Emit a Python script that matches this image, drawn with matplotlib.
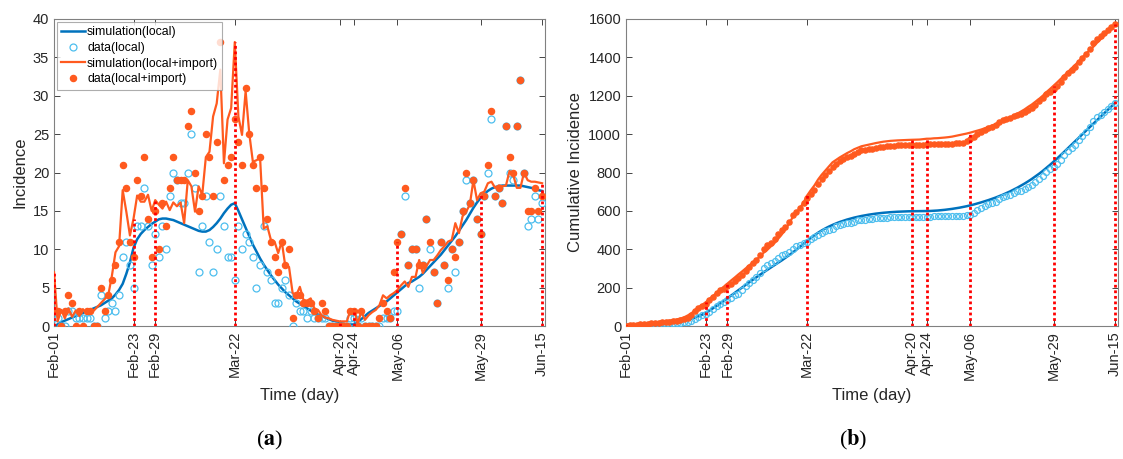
import numpy as np
import matplotlib
matplotlib.use("Agg")
import matplotlib.pyplot as plt

plt.rcParams['font.family'] = ['Liberation Sans', 'DejaVu Sans']
plt.rcParams['mathtext.fontset'] = 'stix'

# ---- daily series, 1 Feb 2020 .. 15 Jun 2020 (136 days) ----
start_date = '2020-02-01'

data_local = [
    1, 1, 0, 0, 2, 2, 1, 1, 1, 1, 1, 0, 0, 4, 1, 2, 3, 2, 4, 9, 11, 8, 5,
    13, 13, 18, 13, 8, 12,
    9, 13, 10, 17, 20, 19, 16, 16, 20, 25, 18, 7, 13, 17, 11, 7, 10, 17, 13, 9, 9, 6,
    13, 10, 12, 11, 9, 5, 8, 13, 7, 6, 3, 3, 5, 6, 4, 0, 3, 2, 2, 1, 2, 1, 1, 1, 1, 0, 0, 0, 0,
    0, 0, 1, 1, 0, 1, 0, 0, 0, 0, 0, 1, 1, 1, 2, 2,
    12, 17, 8, 10, 10, 5, 8, 14, 10, 7, 3, 11, 8, 5, 10, 7, 11, 15, 19, 16, 19, 14, 12,
    17, 20, 27, 17, 18, 16, 26, 20, 19, 26, 32, 20, 13, 14, 17, 14, 16,
]

data_total = [
    2, 2, 0, 2, 4, 3, 0, 2, 0, 2, 2, 0, 0, 5, 2, 4, 6, 8, 11, 21, 18, 11, 9,
    19, 17, 22, 14, 9, 15,
    10, 16, 13, 18, 22, 19, 19, 19, 26, 28, 20, 15, 17, 25, 22, 17, 24, 37, 19, 21, 22, 27,
    24, 21, 31, 25, 21, 18, 22, 18, 14, 11, 9, 7, 11, 8, 10, 1, 4, 4, 3, 3, 3, 2, 1, 3, 2, 0, 0, 0, 0,
    0, 0, 2, 2, 0, 2, 0, 0, 0, 0, 1, 3, 2, 1, 7, 11,
    12, 18, 8, 10, 10, 8, 8, 14, 11, 7, 3, 11, 8, 6, 10, 9, 11, 15, 20, 16, 19, 14, 12,
    17, 21, 28, 17, 18, 16, 26, 22, 20, 26, 32, 20, 15, 15, 18, 15, 17,
]

sim_local = [
    0.0, 0.2, 0.5, 0.7, 0.9, 1.1, 1.3, 1.5, 1.7, 1.9, 2.1, 2.3, 2.5, 2.7, 3.0, 3.3,
    3.6, 4.1, 4.7, 5.5, 6.8, 8.3, 10.2, 11.3, 12.0, 12.5, 12.9, 13.3, 13.6, 13.9,
    14.0, 14.0, 13.9, 13.8, 13.6, 13.4, 13.2, 13.0, 12.8, 12.6, 12.4, 12.3, 12.3,
    12.5, 12.9, 13.4, 14.0, 14.7, 15.3, 15.8, 16.0, 15.0, 13.9, 12.8, 11.7, 10.6,
    9.7, 8.8, 8.0, 7.3, 6.6, 6.0, 5.4, 4.9, 4.4, 4.0, 3.6, 3.2, 2.9, 2.6, 2.3, 2.0,
    1.7, 1.5, 1.3, 1.1, 0.9, 0.7, 0.6, 0.4, 0.3, 0.2, 0.2, 0.2, 0.5, 0.9, 1.3, 1.7,
    2.0, 2.3, 2.6, 2.9, 3.2, 3.6, 4.0, 4.4, 4.8, 5.2, 5.6, 5.8, 6.1, 6.4, 6.8, 7.3,
    7.8, 8.3, 8.8, 9.3, 9.9, 10.5, 11.1, 11.7, 12.4, 13.1, 13.8, 14.6, 15.4, 16.1,
    16.7, 17.2, 17.6, 17.9, 18.1, 18.2, 18.3, 18.3, 18.3, 18.3, 18.3, 18.3, 18.2,
    18.1, 18.0, 17.9, 17.7, 17.6,
]

sim_total = [
    7.0, 0.6, 2.1, 1.0, 2.3, 1.2, 2.0, 1.3, 2.2, 1.6, 2.2, 2.0, 2.5, 3.0, 3.5, 4.0,
    6.5, 9.6, 10.4, 17.7, 14.9, 11.8, 14.0, 17.0, 16.2, 16.2, 17.1, 15.0, 16.4, 15.8,
    15.3, 16.2, 15.1, 16.1, 15.6, 16.1, 13.4, 19.0, 18.2, 14.9, 18.2, 17.1, 22.0,
    22.7, 27.3, 29.0, 33.4, 21.2, 26.9, 28.4, 37.0, 27.3, 24.9, 30.6, 25.1, 21.4,
    21.6, 21.9, 12.7, 13.0, 11.2, 11.0, 9.5, 11.0, 7.7, 7.7, 4.3, 4.0, 5.1, 3.4,
    3.3, 3.6, 2.3, 2.1, 1.4, 1.1, 1.0, 0.8, 0.7, 0.6, 0.6, 0.6, 2.1, 2.2, 0.3, 1.9,
    0.8, 1.4, 1.8, 2.1, 2.7, 4.0, 3.6, 4.0, 4.3, 4.7, 5.3, 5.8, 5.1, 6.4, 6.4, 8.6,
    6.9, 7.8, 8.6, 8.6, 9.2, 9.9, 10.4, 11.0, 11.2, 13.4, 12.1, 14.3, 14.9, 15.8,
    19.0, 16.4, 17.3, 17.5, 18.6, 18.8, 18.0, 18.3, 18.2, 18.3, 20.2, 19.7, 18.0,
    18.0, 20.0, 19.0, 18.8, 18.8, 18.7, 18.6,
]

event_dates = ['2020-02-01', '2020-02-23', '2020-02-29', '2020-03-22',
               '2020-04-20', '2020-04-24', '2020-05-06', '2020-05-29',
               '2020-06-15']

legend_labels = ['simulation(local)', 'data(local)',
                 'simulation(local+import)', 'data(local+import)']

# ---- derived quantities ----
t0 = np.datetime64(start_date)
days = np.arange(len(data_total))
event_days = np.array([(np.datetime64(d) - t0).astype(int) for d in event_dates])
month_names = {'02': 'Feb', '03': 'Mar', '04': 'Apr', '05': 'May', '06': 'Jun'}
event_labels = [month_names[d[5:7]] + '-' + d[8:10] for d in event_dates]

dl = np.array(data_local, float)
dt = np.array(data_total, float)
sl = np.array(sim_local, float)
st = np.array(sim_total, float)
cdl, cdt, csl, cst = np.cumsum(dl), np.cumsum(dt), np.cumsum(sl), np.cumsum(st)

# ---- styling ----
c_blue = '#0072BD'
c_cyan = '#4DBEEE'
c_orange = '#FF5A1F'
c_axis = '#262626'

fig = plt.figure(figsize=(11.23, 4.59), dpi=100)
ax1 = fig.add_axes([54 / 1123, 1 - 326 / 459, 491 / 1123, 307 / 459])
ax2 = fig.add_axes([626 / 1123, 1 - 326 / 459, 492 / 1123, 307 / 459])


def draw(ax, s_loc, d_loc, s_tot, d_tot, ms):
    ax.plot(days, s_loc, color=c_blue, lw=1.8, label=legend_labels[0], zorder=3)
    ax.plot(days, d_loc, 'o', mfc='none', mec=c_cyan, mew=0.9, ms=ms,
            label=legend_labels[1], zorder=3)
    ax.plot(days, s_tot, color=c_orange, lw=1.6, label=legend_labels[2], zorder=4)
    ax.plot(days, d_tot, 'o', mfc=c_orange, mec=c_orange, ms=ms - 0.6,
            label=legend_labels[3], zorder=4)
    tops = np.maximum(d_tot[event_days], s_tot[event_days])
    ax.vlines(event_days, 0, tops, colors='#FF0000', linestyles=(0, (1, 1)),
              lw=2.0, zorder=5)
    ax.set_xlim(0, 135.8)
    ax.set_xticks(event_days)
    ax.set_xticklabels(event_labels, rotation=90, fontsize=10.5, color=c_axis)
    ax.tick_params(direction='in', top=True, right=True, length=4,
                   width=0.6, colors=c_axis, labelsize=10.5)
    for sp in ax.spines.values():
        sp.set_color('#808080')
        sp.set_linewidth(0.8)
    ax.set_xlabel('Time (day)', fontsize=12, color=c_axis, labelpad=6)


draw(ax1, sl, dl, st, dt, 5.0)
ax1.set_ylim(0, 40)
ax1.set_yticks(np.arange(0, 41, 5))
ax1.set_ylabel('Incidence', fontsize=12, color=c_axis, labelpad=4)
leg = ax1.legend(loc='upper left', fontsize=8.8, frameon=True, fancybox=False,
                 handlelength=1.9, handletextpad=0.2, borderpad=0.35,
                 labelspacing=0.3, borderaxespad=0.25)
leg.get_frame().set_edgecolor('#999999')
leg.get_frame().set_linewidth(0.8)

draw(ax2, csl, cdl, cst, cdt, 4.3)
ax2.set_ylim(0, 1600)
ax2.set_yticks(np.arange(0, 1601, 200))
ax2.set_ylabel('Cumulative Incidence', fontsize=12, color=c_axis, labelpad=4)

fig.text(270 / 1123, 1 - 440 / 459, r'($\mathbf{a}$)', ha='center', va='center',
         fontsize=16, family='Liberation Serif', color='black')
fig.text(853 / 1123, 1 - 440 / 459, r'($\mathbf{b}$)', ha='center', va='center',
         fontsize=16, family='Liberation Serif', color='black')

fig.savefig('out.png', dpi=100)
